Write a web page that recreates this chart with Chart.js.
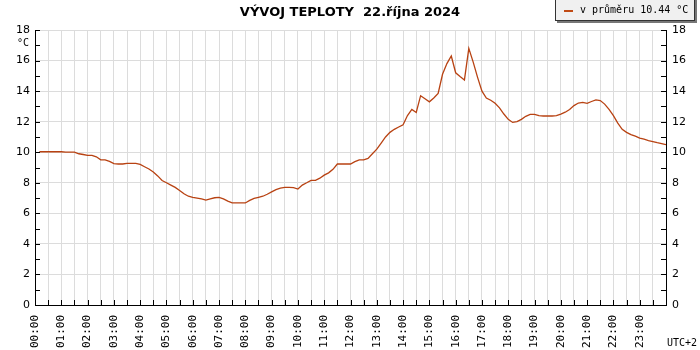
<!DOCTYPE html>
<html>
<head>
<meta charset="utf-8">
<script src="https://cdn.jsdelivr.net/npm/chart.js@4"></script>
<style>
  body { margin: 0; background: #fff; }
  #wrap { position: relative; width: 700px; height: 350px; }
  #title { position: absolute; left: 0; width: 700px; top: 4px; text-align: center;
           font: bold 13px "DejaVu Sans", sans-serif; color: #000; }
  #legend { position: absolute; left: 555px; top: -2px; width: 138px; height: 21px;
            background: #f0f0f0; border: 1px solid #333; box-shadow: 2px 2px 0 #777; }
  #legend .mark { position: absolute; left: 8px; top: 11px; width: 9px; height: 2px; background: #c04a14; }
  #legend .txt { position: absolute; left: 24px; top: 5px; font: 10px "DejaVu Sans Mono", monospace; color: #000; white-space: nowrap; }
  #unit { position: absolute; left: 17px; top: 37px; font: 10px "DejaVu Sans Mono", monospace; }
  #tz { position: absolute; left: 667px; top: 337px; font: 10px "DejaVu Sans Mono", monospace; }
</style>
</head>
<body>
<div id="wrap">
  <canvas id="myChart" width="700" height="350"></canvas>
  <div id="title">VÝVOJ TEPLOTY&nbsp; 22.října 2024</div>
  <div id="legend"><div class="mark"></div><div class="txt">v průměru 10.44 °C</div></div>
  <div id="unit">°C</div>
  <div id="tz">UTC+2</div>
</div>
<script>
// measurement times in minutes after midnight (every 10 min, 00:10 .. 24:00)
const times = [];
for (let m = 10; m <= 1440; m += 10) times.push(m);

// temperature in °C, one row per hour
const temps = [
    10.03, 10.03, 10.03, 10.03, 10.03, 10.03,
    10.0, 10.0, 10.0, 9.9, 9.85, 9.8,
    9.8, 9.7, 9.5, 9.5, 9.4, 9.25,
    9.23, 9.23, 9.27, 9.27, 9.27, 9.2,
    9.05, 8.9, 8.7, 8.45, 8.15, 8.0,
    7.85, 7.7, 7.5, 7.28, 7.12, 7.05,
    7.0, 6.94, 6.86, 6.94, 7.02, 7.05,
    6.95, 6.8, 6.68, 6.68, 6.68, 6.68,
    6.85, 6.98, 7.05, 7.12, 7.25, 7.4,
    7.55, 7.65, 7.7, 7.7, 7.68, 7.59,
    7.85, 8.0, 8.16, 8.16, 8.3, 8.5,
    8.65, 8.88, 9.23, 9.23, 9.23, 9.23,
    9.38, 9.5, 9.5, 9.6, 9.9, 10.2,
    10.6, 11.0, 11.3, 11.5, 11.65, 11.8,
    12.4, 12.8, 12.6, 13.7, 13.5, 13.3,
    13.55, 13.85, 15.1, 15.8, 16.3, 15.2,
    14.95, 14.73, 16.8, 15.9, 14.9, 14.0,
    13.55, 13.4, 13.2, 12.9, 12.5, 12.15,
    11.95, 12.0, 12.15, 12.35, 12.48, 12.48,
    12.4, 12.37, 12.37, 12.37, 12.4, 12.5,
    12.62, 12.8, 13.05, 13.22, 13.26, 13.2,
    13.32, 13.42, 13.38, 13.15, 12.8, 12.4,
    11.9, 11.5, 11.3, 11.15, 11.05, 10.92,
    10.85, 10.76, 10.7, 10.63, 10.57, 10.5
];

const yMin = 0, yMax = 18;
const lineColor = '#b84212';
const gridColor = '#dcdcdc';

function hhmm(v) {
    const h = Math.floor(v / 60), m = v % 60;
    return String(h).padStart(2, '0') + ':' + String(m).padStart(2, '0');
}

// small tick marks drawn inside the plot area
const innerTicks = {
    id: 'innerTicks',
    afterDatasetsDraw(chart) {
        const ctx = chart.ctx;
        const a = chart.chartArea;
        const y = chart.scales.y, x = chart.scales.x;
        ctx.save();
        ctx.strokeStyle = '#000';
        ctx.lineWidth = 1;
        ctx.beginPath();
        for (let v = yMin + 1; v <= yMax; v++) {
            const py = Math.round(y.getPixelForValue(v)) + 0.5;
            ctx.moveTo(a.left, py); ctx.lineTo(a.left + 5, py);
            ctx.moveTo(a.right - 5, py); ctx.lineTo(a.right, py);
        }
        for (let m = 30; m < 1440; m += 30) {
            const px = Math.round(x.getPixelForValue(m)) + 0.5;
            ctx.moveTo(px, a.bottom); ctx.lineTo(px, a.bottom - 5);
        }
        ctx.stroke();
        ctx.restore();
    }
};

document.addEventListener('DOMContentLoaded', () => {
    const ctx = document.getElementById('myChart').getContext('2d');
    new Chart(ctx, {
        type: 'line',
        data: {
            datasets: [{
                data: times.map((t, i) => ({ x: t, y: temps[i] })),
                borderColor: lineColor,
                borderWidth: 1.3,
                pointRadius: 0,
                tension: 0,
                fill: false
            }]
        },
        options: {
            responsive: false,
            animation: false,
            layout: { padding: { top: 30 } },
            plugins: { legend: { display: false }, title: { display: false }, tooltip: { enabled: false } },
            scales: {
                x: {
                    type: 'linear', min: 0, max: 1440,
                    afterFit: s => { s.height = 45; },
                    border: { color: '#000' },
                    grid: { color: gridColor, drawTicks: false },
                    ticks: {
                        stepSize: 30, autoSkip: false, padding: 10,
                        minRotation: 90, maxRotation: 90,
                        color: '#000',
                        font: { family: 'DejaVu Sans Mono', size: 11 },
                        callback: v => (v % 60 === 0 && v < 1440) ? hhmm(v) : ''
                    }
                },
                y: {
                    position: 'left', min: yMin, max: yMax,
                    afterFit: s => { s.width = 35; },
                    border: { color: '#000' },
                    grid: { drawTicks: false, color: c => (c.tick && c.tick.value % 2 === 0) ? gridColor : 'rgba(0,0,0,0)' },
                    ticks: {
                        stepSize: 1, autoSkip: false, padding: 5, color: '#000',
                        font: { family: 'DejaVu Sans', size: 11 },
                        callback: v => v % 2 === 0 ? v : ''
                    }
                },
                y2: {
                    position: 'right', min: yMin, max: yMax,
                    afterFit: s => { s.width = 34; },
                    border: { color: '#000' },
                    grid: { drawOnChartArea: false, drawTicks: false },
                    ticks: {
                        stepSize: 1, autoSkip: false, padding: 6, color: '#000',
                        font: { family: 'DejaVu Sans', size: 11 },
                        callback: v => v % 2 === 0 ? v : ''
                    }
                }
            }
        },
        plugins: [innerTicks]
    });
});
</script>
</body>
</html>
